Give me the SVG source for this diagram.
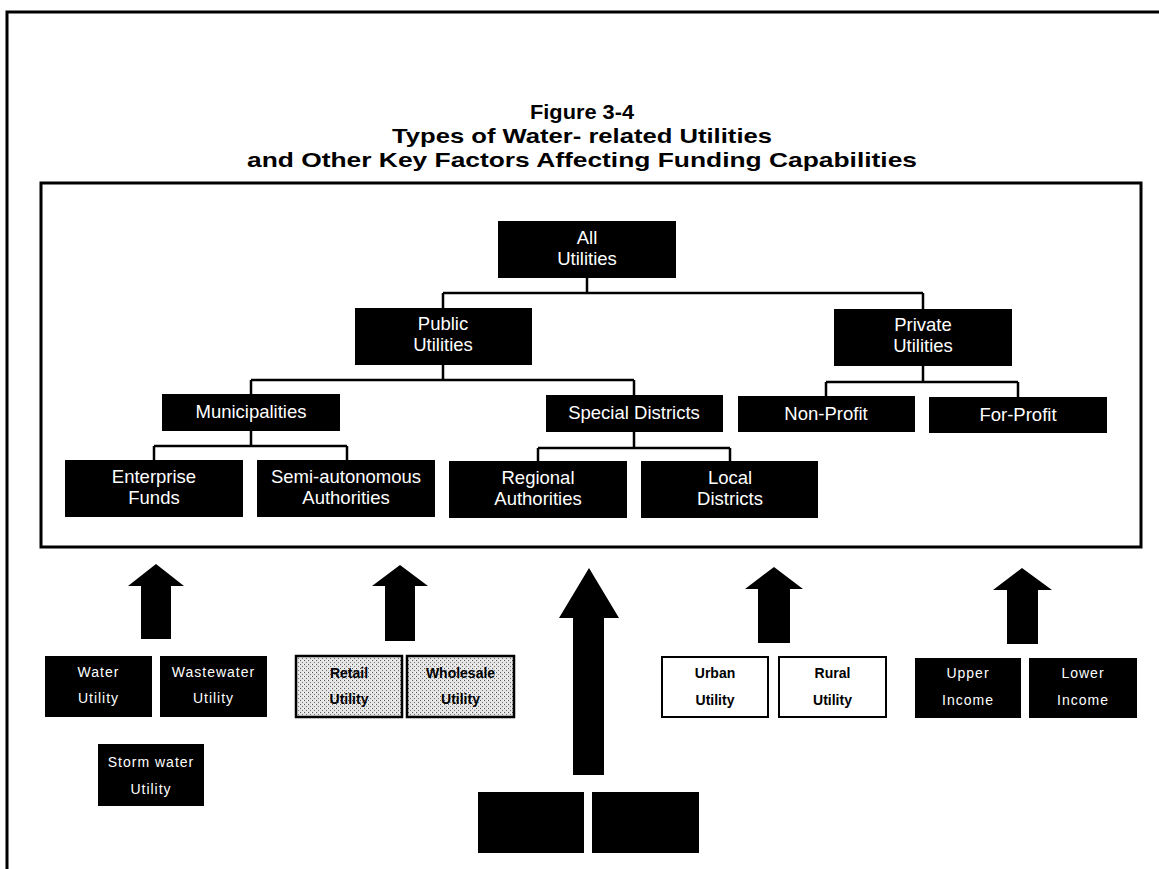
<svg xmlns="http://www.w3.org/2000/svg" width="1159" height="869" viewBox="0 0 1159 869">
<style>
.frame{fill:none;stroke:#000;stroke-width:3}
.box{fill:#000}
.t{font-family:"Liberation Sans",Arial,sans-serif;font-size:18.5px;fill:#fff;text-anchor:middle}
.s{font-family:"Liberation Sans",Arial,sans-serif;font-size:14px;letter-spacing:1px;fill:#fff;text-anchor:middle}
.sb{font-family:"Liberation Sans",Arial,sans-serif;font-size:14px;font-weight:bold;fill:#000;text-anchor:middle}
.title{font-family:"Liberation Sans",Arial,sans-serif;font-size:21px;font-weight:bold;fill:#000;text-anchor:middle}
.wbox{fill:#fff;stroke:#000;stroke-width:2}
.gbox{fill:url(#stipple);stroke:#000;stroke-width:2.5}
.conn{fill:none;stroke:#000;stroke-width:2.5}
.arrow{fill:#000}
</style>
<defs>
<pattern id="stipple" width="4" height="4" patternUnits="userSpaceOnUse">
<rect width="4" height="4" fill="#e4e4e4"/>
<rect x="0" y="0" width="1" height="1" fill="#555"/>
<rect x="2" y="2" width="1" height="1" fill="#777"/>
<rect x="3" y="0" width="1" height="1" fill="#fff"/>
</pattern>
</defs>
<rect width="1159" height="869" fill="#fff"/>
<path class="frame" d="M7 869 V12 H1159"/>
<g id="title">
<text class="title" x="582" y="119" textLength="104" lengthAdjust="spacingAndGlyphs">Figure 3-4</text>
<text class="title" x="582" y="143" textLength="380" lengthAdjust="spacingAndGlyphs">Types of Water- related Utilities</text>
<text class="title" x="582" y="167" textLength="670" lengthAdjust="spacingAndGlyphs">and Other Key Factors Affecting Funding Capabilities</text>
</g>
<rect class="frame" x="41" y="183" width="1100" height="364"/>
<g id="connectors">
<path class="conn" d="M587 278 V293 M443 293 H923 M443 293 V308 M923 293 V309"/>
<path class="conn" d="M443 365 V380 M251 380 H634 M251 380 V394 M634 380 V395"/>
<path class="conn" d="M923 366 V382 M826 382 H1018 M826 382 V396 M1018 382 V397"/>
<path class="conn" d="M251 431 V446 M154 446 H347 M154 446 V460 M347 446 V460"/>
<path class="conn" d="M634 432 V448 M538 448 H730 M538 448 V461 M730 448 V461"/>
</g>
<g id="all"><rect class="box" x="498" y="221" width="178" height="57"/><text class="t" x="587" y="243.5">All</text><text class="t" x="587" y="264.5">Utilities</text></g>
<g id="public"><rect class="box" x="355" y="308" width="177" height="57"/><text class="t" x="443" y="329.5">Public</text><text class="t" x="443" y="350.5">Utilities</text></g>
<g id="private"><rect class="box" x="834" y="309" width="178" height="57"/><text class="t" x="923" y="330.5">Private</text><text class="t" x="923" y="352">Utilities</text></g>
<g id="municipalities"><rect class="box" x="162" y="394" width="178" height="37"/><text class="t" x="251" y="418">Municipalities</text></g>
<g id="special"><rect class="box" x="546" y="395" width="177" height="37"/><text class="t" x="634" y="419">Special Districts</text></g>
<g id="nonprofit"><rect class="box" x="738" y="396" width="177" height="36"/><text class="t" x="826" y="420">Non-Profit</text></g>
<g id="forprofit"><rect class="box" x="929" y="397" width="178" height="36"/><text class="t" x="1018" y="421">For-Profit</text></g>
<g id="enterprise"><rect class="box" x="65" y="460" width="178" height="57"/><text class="t" x="154" y="482.5">Enterprise</text><text class="t" x="154" y="503.5">Funds</text></g>
<g id="semi"><rect class="box" x="257" y="460" width="178" height="57"/><text class="t" x="346" y="482.5">Semi-autonomous</text><text class="t" x="346" y="503.5">Authorities</text></g>
<g id="regional"><rect class="box" x="449" y="461" width="178" height="57"/><text class="t" x="538" y="483.5">Regional</text><text class="t" x="538" y="504.5">Authorities</text></g>
<g id="local"><rect class="box" x="641" y="461" width="177" height="57"/><text class="t" x="730" y="483.5">Local</text><text class="t" x="730" y="504.5">Districts</text></g>
<g id="arrows">
<polygon class="arrow" points="156,564 184,586 171,586 171,639 141,639 141,586 128,586"/>
<polygon class="arrow" points="400,565 428,586 415,586 415,641 385,641 385,586 372,586"/>
<polygon class="arrow" points="589,568 619,618 604,618 604,775 573,775 573,618 559,618"/>
<polygon class="arrow" points="774,567 803,589 790,589 790,643 758,643 758,589 745,589"/>
<polygon class="arrow" points="1022,568 1052,590 1038,590 1038,644 1007,644 1007,590 993,590"/>
</g>
<g id="water"><rect class="box" x="45" y="656" width="107" height="61"/><text class="s" x="98.5" y="677">Water</text><text class="s" x="98.5" y="703">Utility</text></g>
<g id="wastewater"><rect class="box" x="160" y="656" width="107" height="61"/><text class="s" x="213.5" y="677">Wastewater</text><text class="s" x="213.5" y="703">Utility</text></g>
<g id="stormwater"><rect class="box" x="98" y="744" width="106" height="62"/><text class="s" x="151" y="767">Storm water</text><text class="s" x="151" y="794">Utility</text></g>
<g id="retail"><rect class="gbox" x="296" y="656" width="106" height="61"/><text class="sb" x="349" y="678">Retail</text><text class="sb" x="349" y="704">Utility</text></g>
<g id="wholesale"><rect class="gbox" x="407" y="656" width="107" height="61"/><text class="sb" x="460.5" y="678">Wholesale</text><text class="sb" x="460.5" y="704">Utility</text></g>
<g id="blank1"><rect class="box" x="478" y="792" width="106" height="61"/></g>
<g id="blank2"><rect class="box" x="592" y="792" width="107" height="61"/></g>
<g id="urban"><rect class="wbox" x="662" y="657" width="106" height="60"/><text class="sb" x="715" y="678">Urban</text><text class="sb" x="715" y="705">Utility</text></g>
<g id="rural"><rect class="wbox" x="779" y="657" width="107" height="60"/><text class="sb" x="832.5" y="678">Rural</text><text class="sb" x="832.5" y="705">Utility</text></g>
<g id="upper"><rect class="box" x="915" y="658" width="106" height="60"/><text class="s" x="968" y="678">Upper</text><text class="s" x="968" y="705">Income</text></g>
<g id="lower"><rect class="box" x="1029" y="658" width="108" height="60"/><text class="s" x="1083" y="678">Lower</text><text class="s" x="1083" y="705">Income</text></g>
</svg>
